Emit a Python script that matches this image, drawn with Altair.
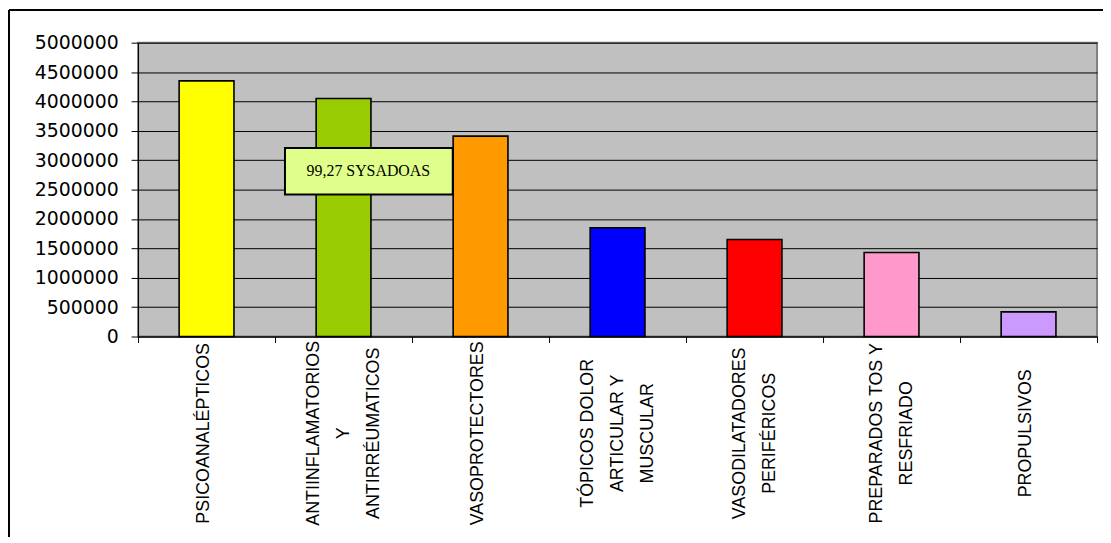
import altair as alt
import pandas as pd

# ---- data ----
categories = [
    "PSICOANALÉPTICOS",
    "ANTIINFLAMATORIOS|Y|ANTIRRÉUMATICOS",
    "VASOPROTECTORES",
    "TÓPICOS DOLOR|ARTICULAR Y|MUSCULAR",
    "VASODILATADORES|PERIFÉRICOS",
    "PREPARADOS TOS Y|RESFRIADO",
    "PROPULSIVOS",
]
values = [4350000, 4050000, 3410000, 1850000, 1650000, 1430000, 420000]
bar_colors = ["#FFFF00", "#99CC00", "#FF9900", "#0000FF", "#FF0000", "#FF99CC", "#CC99FF"]
y_ticks = [0, 500000, 1000000, 1500000, 2000000, 2500000, 3000000, 3500000, 4000000, 4500000, 5000000]
annotation_text = ["99,27 SYSADOAS"]

df = pd.DataFrame({"cat": categories, "value": values})
one = pd.DataFrame({"text": annotation_text})

W, H = 966, 296

n_lines = "length(split(datum.label, '|'))"

x_enc = alt.X(
    "cat:N",
    sort=None,
    scale=alt.Scale(paddingInner=0, paddingOuter=0),
    axis=alt.Axis(
        title=None,
        labelExpr="split(datum.label, '|')",
        labelAngle=-90,
        labelAlign="center",
        labelBaseline="middle",
        labelPadding=91,
        labelLineHeight=30,
        labelFont="Liberation Sans",
        labelFontSize=18,
        labelColor="#000000",
        labelLimit=0,
        labelOverlap=False,
        labelOffset={
            "condition": [
                {"test": n_lines + " == 3", "value": -30},
                {"test": n_lines + " == 2", "value": -15},
            ],
            "value": -3,
        },
        ticks=True,
        tickBand="extent",
        tickSize=6,
        tickWidth=1,
        tickColor="#000000",
        domainColor="#000000",
        grid=False,
    ),
)

y_enc = alt.Y(
    "value:Q",
    scale=alt.Scale(domain=[0, 5000000], nice=False),
    axis=alt.Axis(
        title=None,
        values=y_ticks,
        format="d",
        labelFont="DejaVu Sans",
        labelFontSize=19,
        labelColor="#000000",
        labelPadding=13,
        labelOverlap=False,
        tickSize=7,
        tickColor="#000000",
        domainColor="#000000",
        gridColor="#000000",
        gridWidth=1,
        gridOpacity=1,
    ),
)

bars = alt.Chart(df).mark_bar(
    stroke="#000000", strokeWidth=1.6, width=alt.RelativeBandSize(0.4)
).encode(
    x=x_enc,
    y=y_enc,
    fill=alt.Fill(
        "cat:N",
        sort=None,
        scale=alt.Scale(domain=categories, range=bar_colors),
        legend=None,
    ),
)

box = alt.Chart(one).mark_rect(fill="#DFFF8A", stroke="#000000", strokeWidth=2).encode(
    x=alt.value(148), x2=alt.value(317), y=alt.value(106), y2=alt.value(153)
)
label = alt.Chart(one).mark_text(
    font="Liberation Serif", fontSize=16, color="#000000", align="center", baseline="middle"
).encode(text="text:N", x=alt.value(232), y=alt.value(129))

top_border = alt.Chart(one).mark_rule(color="#000000", strokeWidth=2).encode(
    x=alt.value(-130), x2=alt.value(990), y=alt.value(-33)
)
left_border = alt.Chart(one).mark_rule(color="#000000", strokeWidth=2).encode(
    x=alt.value(-130), y=alt.value(-33), y2=alt.value(540)
)

chart = (
    alt.layer(bars, box, label, top_border, left_border)
    .properties(
        width=W,
        height=H,
        autosize=alt.AutoSizeParams(type="none"),
        padding={"left": 131, "top": 33, "right": 6, "bottom": 200},
        background="#FFFFFF",
    )
    .configure_view(fill="#C0C0C0", stroke="#808080", strokeWidth=2)
)

chart.save("out.html", embed_options={"renderer": "svg", "actions": False})
